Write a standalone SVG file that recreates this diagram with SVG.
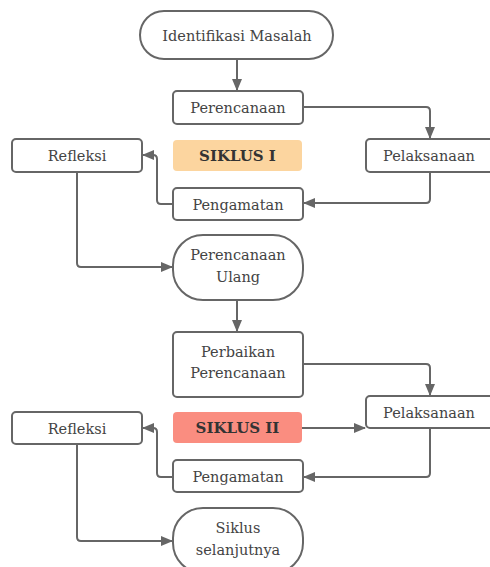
<svg xmlns="http://www.w3.org/2000/svg" width="490" height="567" viewBox="0 0 490 567">
<defs>
<marker id="ah" markerWidth="12" markerHeight="10" refX="11" refY="5" orient="auto" markerUnits="userSpaceOnUse">
<path d="M0,0 L12,5 L0,10 Z" fill="#666"/>
</marker>
<style>
.n{fill:#fff;stroke:#666;stroke-width:2}
.t{font-family:"DejaVu Serif","Liberation Serif",serif;font-size:14.5px;fill:#444;text-anchor:middle}
.b{font-family:"DejaVu Serif","Liberation Serif",serif;font-size:15px;font-weight:bold;fill:#333;text-anchor:middle}
.c{fill:none;stroke:#666;stroke-width:2;marker-end:url(#ah)}
</style>
</defs>
<rect width="490" height="567" fill="#fff"/>
<g id="connectors">
<path class="c" d="M237,59 V90"/>
<path class="c" d="M303,107 H426 Q430,107 430,111 V138"/>
<path class="c" d="M430,172 V199 Q430,203 426,203 H304"/>
<path class="c" d="M173,204 H161 Q157,204 157,200 V159 Q157,155 153,155 H143"/>
<path class="c" d="M77,172 V263 Q77,267 81,267 H172"/>
<path class="c" d="M237,300 V331"/>
<path class="c" d="M303,364 H426 Q430,364 430,368 V395"/>
<path class="c" d="M302,428 H365"/>
<path class="c" d="M430,428 V473 Q430,477 426,477 H304"/>
<path class="c" d="M173,477 H161 Q157,477 157,473 V432 Q157,428 153,428 H143"/>
<path class="c" d="M77,444 V537 Q77,541 81,541 H172"/>
</g>
<g id="identifikasi"><rect class="n" x="140" y="11" width="193" height="48" rx="24"/><text class="t" x="237" y="41">Identifikasi Masalah</text></g>
<g id="perencanaan1"><rect class="n" x="173" y="91" width="130" height="33" rx="4"/><text class="t" x="238" y="113">Perencanaan</text></g>
<g id="siklus1"><rect x="173" y="140" width="129" height="31" rx="4" fill="#fcd59f"/><text class="b" x="237.5" y="161">SIKLUS I</text></g>
<g id="pelaksanaan1"><rect class="n" x="366" y="139" width="130" height="33" rx="4"/><text class="t" x="429" y="161">Pelaksanaan</text></g>
<g id="refleksi1"><rect class="n" x="12" y="139" width="130" height="33" rx="4"/><text class="t" x="77" y="161">Refleksi</text></g>
<g id="pengamatan1"><rect class="n" x="173" y="188" width="130" height="32" rx="4"/><text class="t" x="238" y="210">Pengamatan</text></g>
<g id="perencanaanulang"><rect class="n" x="173" y="235" width="130" height="65" rx="30"/><text class="t" x="238" y="260">Perencanaan</text><text class="t" x="238" y="282">Ulang</text></g>
<g id="perbaikan"><rect class="n" x="173" y="332" width="130" height="65" rx="4"/><text class="t" x="238" y="357">Perbaikan</text><text class="t" x="238" y="378">Perencanaan</text></g>
<g id="siklus2"><rect x="173" y="412" width="129" height="31" rx="4" fill="#fa8d80"/><text class="b" x="237.5" y="433">SIKLUS II</text></g>
<g id="pelaksanaan2"><rect class="n" x="366" y="396" width="130" height="32" rx="4"/><text class="t" x="429" y="418">Pelaksanaan</text></g>
<g id="refleksi2"><rect class="n" x="12" y="412" width="130" height="32" rx="4"/><text class="t" x="77" y="434">Refleksi</text></g>
<g id="pengamatan2"><rect class="n" x="173" y="460" width="130" height="32" rx="4"/><text class="t" x="238" y="482">Pengamatan</text></g>
<g id="sikluslanjut"><rect class="n" x="173" y="508" width="130" height="65" rx="30"/><text class="t" x="238" y="533">Siklus</text><text class="t" x="238" y="555">selanjutnya</text></g>
</svg>
